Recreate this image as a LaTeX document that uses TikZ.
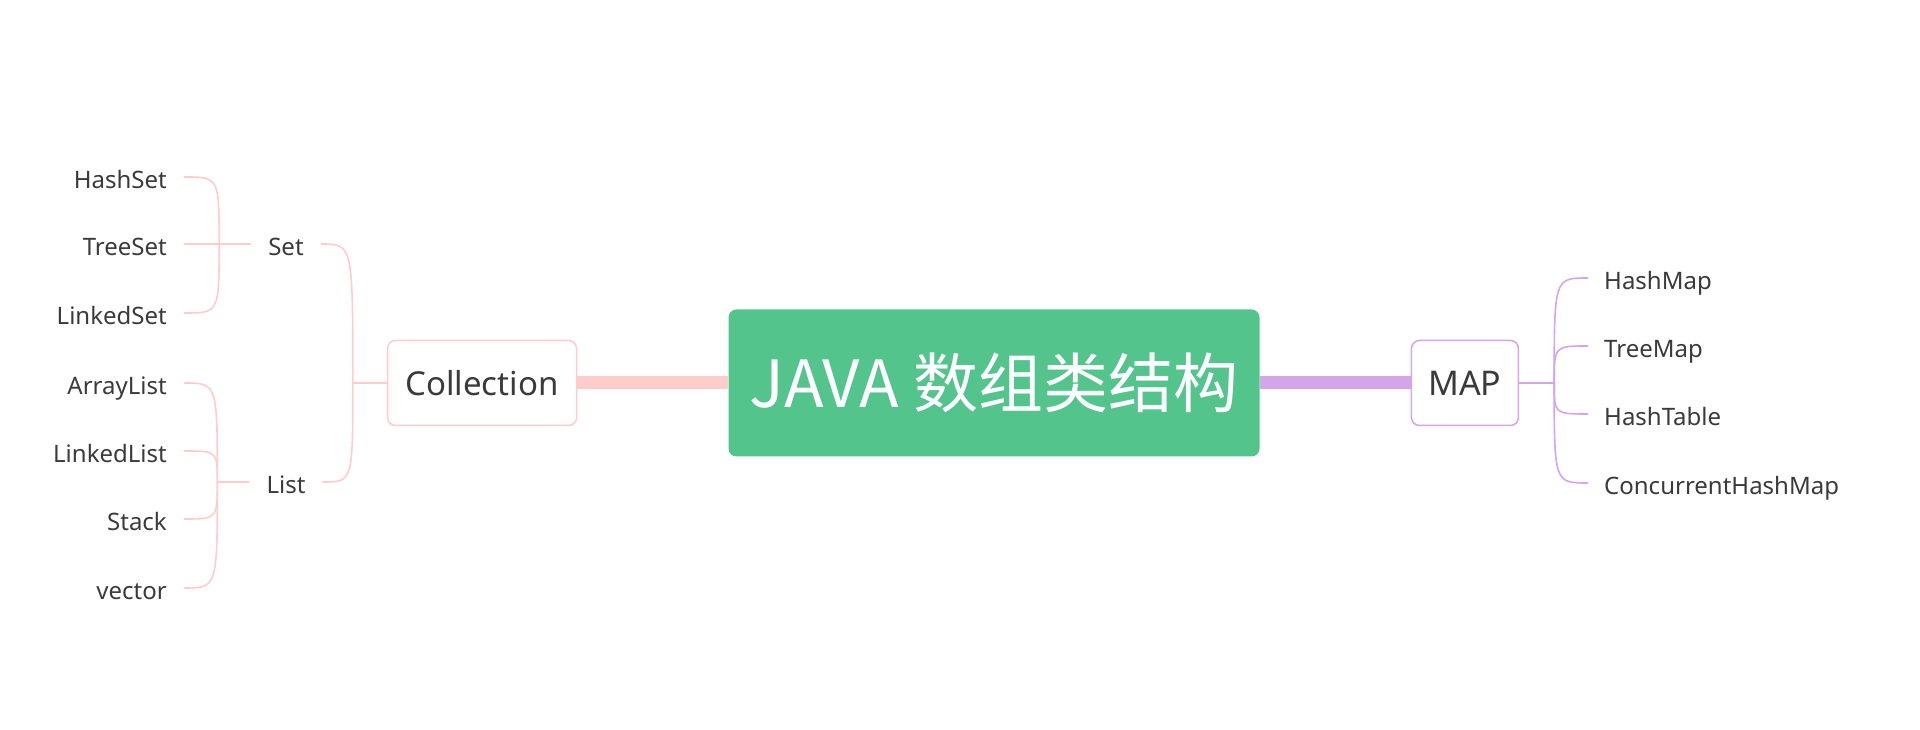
\documentclass[tikz,border=0pt]{standalone}
\usepackage{fontspec}
\setmainfont{Noto Sans}
\newfontfamily\cjk{Noto Sans CJK SC}
\usepackage{tikz}
\usetikzlibrary{positioning}
\definecolor{rootgreen}{HTML}{52C48C}
\definecolor{collpink}{HTML}{FFCCCC}
\definecolor{mappurple}{HTML}{D4A5E9}
\definecolor{inkgray}{HTML}{3A3A3A}
\tikzset{%
	root/.style={%
		rectangle,
		rounded corners=8pt,
		fill=rootgreen,
		text=white,
		minimum width=531pt,
		minimum height=147pt,
		font=\cjk\fontsize{65}{65}\selectfont
	},
	branch/.style={%
		rectangle,
		rounded corners=8pt,
		draw,
		line width=1.5pt,
		fill=white,
		minimum height=85pt,
		text=inkgray,
		font=\fontsize{33}{33}\selectfont
	},
	leaf/.style={%
		inner xsep=#1,
		inner ysep=0pt,
		text height=24pt,
		text depth=0pt,
		text=inkgray,
		font=\fontsize{24}{24}\selectfont
	},
	leaf/.default=17pt,
	twig/.style={line width=1.6pt, draw=#1},
	trunk/.style={line width=13pt, draw=#1}
}
\begin{document}
\begin{tikzpicture}[x=1pt, y=1pt, node distance=151pt]
	\useasboundingbox (0,0) rectangle (1920,730);
	\node [root] (java) at (994,347) {JAVA 数组类结构};
	\node [branch, draw=collpink, minimum width=189pt] (coll) [left=of java] {Collection};
	\node [branch, draw=mappurple, minimum width=107pt, font=\fontsize{34}{34}\selectfont] (map) [right=of java] {MAP};
	\draw [trunk=collpink] (coll) -- (java);
	\draw [trunk=mappurple] (java) -- (map);
	% Collection side
	\node [leaf] (set) at (286,486) {Set};
	\node [leaf] (list) at (286,248) {List};
	\node [leaf, anchor=east] (hashset) at (184,553) {HashSet};
	\node [leaf, anchor=east] (treeset) at (184,486) {TreeSet};
	\node [leaf, anchor=east] (linkedset) at (184,417) {LinkedSet};
	\node [leaf, anchor=east] (arraylist) at (184,347) {ArrayList};
	\node [leaf, anchor=east] (linkedlist) at (184,279) {LinkedList};
	\node [leaf, anchor=east] (stack) at (184,211) {Stack};
	\node [leaf, anchor=east] (vector) at (184,142) {vector};
	\coordinate [left=34pt of coll.west] (collj);
	\coordinate [left=32pt of set.west] (setj);
	\coordinate [left=32pt of list.west] (listj);
	\draw [twig=collpink] (coll) -- (collj) .. controls (collj |- set.east) .. (set.east);
	\draw [twig=collpink] (collj) .. controls (collj |- list.east) .. (list.east);
	\draw [twig=collpink] (set) -- (treeset);
	\draw [twig=collpink] (setj) .. controls (setj |- hashset.east) .. (hashset.east);
	\draw [twig=collpink] (setj) .. controls (setj |- linkedset.east) .. (linkedset.east);
	\draw [twig=collpink] (list) -- (listj) .. controls (listj |- arraylist.east) .. (arraylist.east);
	\draw [twig=collpink] (listj) .. controls (listj |- linkedlist.east) .. (linkedlist.east);
	\draw [twig=collpink] (listj) .. controls (listj |- stack.east) .. (stack.east);
	\draw [twig=collpink] (listj) .. controls (listj |- vector.east) .. (vector.east);
	% MAP side
	\node [leaf=16pt, anchor=west] (hashmap) at (1588,452) {HashMap};
	\node [leaf=16pt, anchor=west] (treemap) at (1588,384) {TreeMap};
	\node [leaf=16pt, anchor=west] (hashtable) at (1588,316) {HashTable};
	\node [leaf=16pt, anchor=west] (chashmap) at (1588,247) {ConcurrentHashMap};
	\coordinate [right=35pt of map.east] (mapj);
	\draw [twig=mappurple] (map) -- (mapj) .. controls (mapj |- hashmap.west) .. (hashmap.west);
	\draw [twig=mappurple] (mapj) .. controls (mapj |- treemap.west) .. (treemap.west);
	\draw [twig=mappurple] (mapj) .. controls (mapj |- hashtable.west) .. (hashtable.west);
	\draw [twig=mappurple] (mapj) .. controls (mapj |- chashmap.west) .. (chashmap.west);
\end{tikzpicture}
\end{document}
